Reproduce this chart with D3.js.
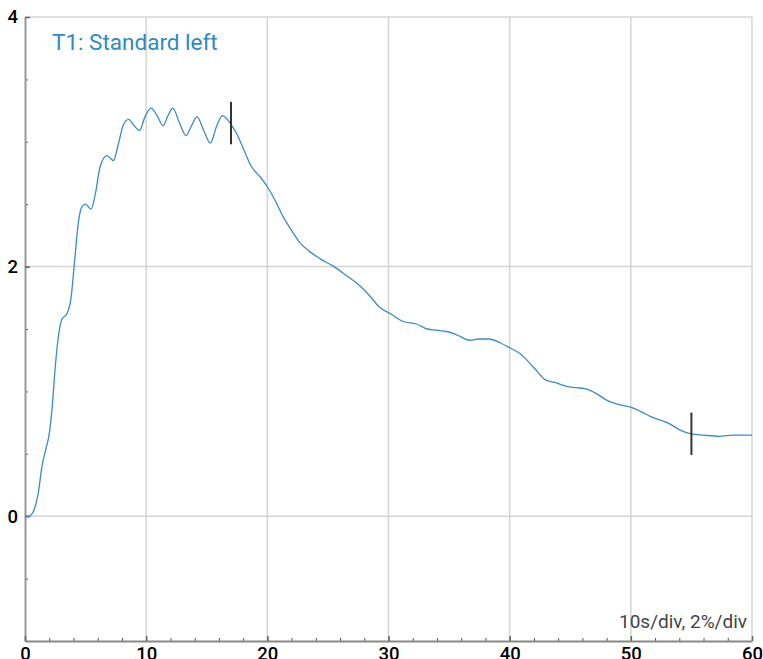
<!DOCTYPE html>
<html>
<head>
<meta charset="utf-8">
<script src="https://cdn.jsdelivr.net/npm/d3@7"></script>
<style>
  body { margin: 0; background: #fff; }
  svg { display: block; font-family: Roboto, sans-serif; }
</style>
</head>
<body>
<div id="chart"></div>
<script>
// trace T1, time in seconds, value in %
const times = [0, 0.3, 0.7, 1.1, 1.4, 1.7, 2.0, 2.25, 2.5, 2.8, 3.05, 3.45, 3.8, 4.1, 4.4, 4.7, 5.0, 5.45, 5.8, 6.2,
  6.75, 7.3, 7.7, 8.1, 8.55, 9.0, 9.45, 9.9, 10.4, 10.9, 11.4, 11.8, 12.2, 12.75, 13.3, 13.75, 14.2, 14.75, 15.3, 15.8,
  16.3, 16.7, 17.0, 17.5, 18.0, 18.7, 19.4, 20.0, 20.7, 21.3, 22.0, 22.7, 23.5, 24.4, 25.5, 26.5, 27.7, 28.5, 29.2, 30.2,
  31.2, 32.3, 33.2, 34.0, 34.8, 35.7, 36.7, 37.5, 38.3, 39.2, 40.0, 40.9, 42.0, 43.0, 43.8, 44.7, 45.5, 46.3, 47.2, 48.0,
  48.8, 50.1, 51.0, 51.6, 53.0, 54.3, 55.0, 56.0, 57.3, 58.5, 60.0];
const values = [0, 0, 0.04, 0.19, 0.40, 0.53, 0.66, 0.88, 1.20, 1.47, 1.58, 1.62, 1.75, 2.05, 2.35, 2.48, 2.50, 2.46, 2.58, 2.80,
  2.89, 2.85, 2.98, 3.13, 3.18, 3.13, 3.09, 3.20, 3.27, 3.21, 3.13, 3.21, 3.27, 3.15, 3.05, 3.13, 3.20, 3.09, 2.99, 3.12,
  3.21, 3.18, 3.14, 3.06, 2.95, 2.80, 2.72, 2.64, 2.52, 2.40, 2.29, 2.19, 2.12, 2.06, 2.00, 1.93, 1.84, 1.76, 1.68, 1.62,
  1.56, 1.54, 1.50, 1.49, 1.48, 1.45, 1.41, 1.42, 1.42, 1.39, 1.35, 1.30, 1.19, 1.09, 1.07, 1.04, 1.03, 1.02, 0.98, 0.93,
  0.90, 0.87, 0.83, 0.80, 0.75, 0.68, 0.66, 0.65, 0.64, 0.65, 0.65];

// cursor markers
const markerTimes = [17, 55];
const markerValues = [3.15, 0.66];
const markerHalf = 0.17;

const xMajorTicks = [0, 10, 20, 30, 40, 50, 60];
const xMinorTicks = d3.range(0, 60.001, 2);
const yMajorTicks = [0, 2, 4];
const yMinorTicks = d3.range(-1, 4.001, 0.5);

const title = "T1: Standard left";
const scaleNote = "10s/div, 2%/div";

const width = 763, height = 659;
const margin = { top: 17, right: 11, bottom: 18, left: 25 };

const svg = d3.select("#chart").append("svg")
  .attr("width", width)
  .attr("height", height);

const x = d3.scaleLinear().domain([0, 60]).range([margin.left, width - margin.right]);
const y = d3.scaleLinear().domain([-1, 4]).range([height - margin.bottom, margin.top]);

// grid
svg.append("g")
  .selectAll("line.vgrid")
  .data(xMajorTicks.filter(d => d > 0))
  .enter().append("line")
  .attr("x1", d => x(d)).attr("x2", d => x(d))
  .attr("y1", y(4)).attr("y2", y(-1))
  .attr("stroke", "#d4d4d4").attr("stroke-width", 1.5);

svg.append("g")
  .selectAll("line.hgrid")
  .data(yMajorTicks)
  .enter().append("line")
  .attr("x1", x(0)).attr("x2", x(60))
  .attr("y1", d => y(d)).attr("y2", d => y(d))
  .attr("stroke", "#d4d4d4").attr("stroke-width", 1.5);

// minor ticks
svg.append("g")
  .attr("transform", `translate(${x(0)},0)`)
  .call(d3.axisLeft(y).tickValues(yMinorTicks).tickFormat("").tickSize(-3).tickSizeOuter(0))
  .call(g => g.select(".domain").remove())
  .call(g => g.selectAll(".tick line").attr("stroke", "#555"));

svg.append("g")
  .attr("transform", `translate(0,${y(-1)})`)
  .call(d3.axisBottom(x).tickValues(xMinorTicks).tickFormat("").tickSize(-3).tickSizeOuter(0))
  .call(g => g.select(".domain").remove())
  .call(g => g.selectAll(".tick line").attr("stroke", "#555"));

// major axes
svg.append("g")
  .attr("transform", `translate(${x(0)},0)`)
  .call(d3.axisLeft(y).tickValues(yMajorTicks).tickFormat(d3.format("d")).tickSize(-5).tickSizeOuter(0).tickPadding(7))
  .call(g => g.select(".domain").attr("stroke", "#999").attr("stroke-width", 2))
  .call(g => g.selectAll(".tick line").attr("stroke", "#666").attr("stroke-width", 1.5))
  .call(g => g.selectAll(".tick text").attr("fill", "#000").attr("font-size", 18.5).attr("font-weight", 500).attr("font-family", "Roboto, sans-serif"));

svg.append("g")
  .attr("transform", `translate(0,${y(-1)})`)
  .call(d3.axisBottom(x).tickValues(xMajorTicks).tickFormat(d3.format("d")).tickSize(-5).tickSizeOuter(0).tickPadding(6))
  .call(g => g.select(".domain").attr("stroke", "#888").attr("stroke-width", 2))
  .call(g => g.selectAll(".tick line").attr("stroke", "#666").attr("stroke-width", 1.5))
  .call(g => g.selectAll(".tick text").attr("fill", "#000").attr("font-size", 18.5).attr("font-weight", 500).attr("font-family", "Roboto, sans-serif"));

// trace
const points = times.map((t, i) => ({ t: t, v: values[i] }));

const line = d3.line()
  .x(d => x(d.t))
  .y(d => y(d.v))
  .curve(d3.curveMonotoneX);

svg.append("path")
  .datum(points)
  .attr("fill", "none")
  .attr("stroke", "#3a8dc1")
  .attr("stroke-width", 1.3)
  .attr("d", line);

// cursors
svg.append("g")
  .selectAll("line")
  .data(markerTimes)
  .enter().append("line")
  .attr("x1", d => x(d)).attr("x2", d => x(d))
  .attr("y1", (d, i) => y(markerValues[i] + markerHalf))
  .attr("y2", (d, i) => y(markerValues[i] - markerHalf))
  .attr("stroke", "#333")
  .attr("stroke-width", 2);

// labels
svg.append("text")
  .attr("x", 52)
  .attr("y", 50)
  .attr("fill", "#2f8ac2")
  .attr("font-size", 22.5)
  .text(title);

svg.append("text")
  .attr("x", 747)
  .attr("y", 628)
  .attr("text-anchor", "end")
  .attr("fill", "#444")
  .attr("font-size", 19)
  .text(scaleNote);
</script>
</body>
</html>
